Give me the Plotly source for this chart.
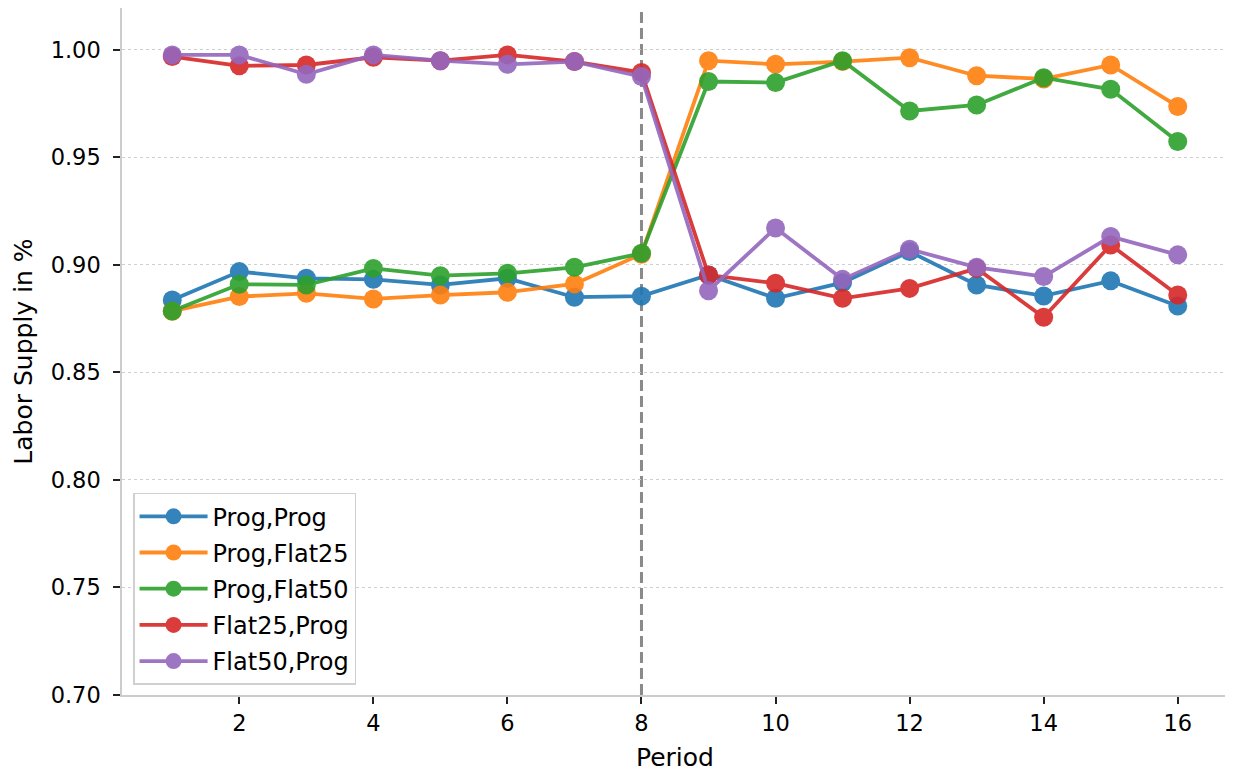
import plotly.graph_objects as go

periods = list(range(1, 17))

prog_prog = [0.8837, 0.8969, 0.8938, 0.8933, 0.8907, 0.8938, 0.8850, 0.8855,
             0.8953, 0.8845, 0.8918, 0.9062, 0.8907, 0.8856, 0.8926, 0.8809]
prog_flat25 = [0.8785, 0.8853, 0.8868, 0.8842, 0.8860, 0.8873, 0.8912, 0.9050,
               0.9950, 0.9933, 0.9946, 0.9964, 0.9880, 0.9865, 0.9930, 0.9737]
prog_flat50 = [0.8786, 0.8910, 0.8907, 0.8984, 0.8950, 0.8961, 0.8989, 0.9054,
               0.9853, 0.9848, 0.9950, 0.9716, 0.9744, 0.9871, 0.9817, 0.9574]
flat25_prog = [0.9969, 0.9926, 0.9930, 0.9966, 0.9950, 0.9977, 0.9946, 0.9895,
               0.8953, 0.8915, 0.8845, 0.8891, 0.8984, 0.8757, 0.9093, 0.8860]
flat50_prog = [0.9977, 0.9977, 0.9887, 0.9977, 0.9950, 0.9933, 0.9946, 0.9876,
               0.8880, 0.9172, 0.8933, 0.9073, 0.8989, 0.8946, 0.9132, 0.9047]

series_names = ["Prog,Prog", "Prog,Flat25", "Prog,Flat50", "Flat25,Prog", "Flat50,Prog"]
series_values = [prog_prog, prog_flat25, prog_flat50, flat25_prog, flat50_prog]
colors = ["#1f77b4", "#ff7f0e", "#2ca02c", "#d62728", "#9467bd"]

x_ticks = list(range(2, 17, 2))
y_ticks = [0.70, 0.75, 0.80, 0.85, 0.90, 0.95, 1.00]
break_period = 8

fig = go.Figure()
for i, (name, vals, col) in enumerate(zip(series_names, series_values, colors)):
    fig.add_trace(go.Scatter(
        x=periods, y=vals, name=name, mode="lines+markers",
        legendgroup=f"g{i}",
        line=dict(color=col, width=3.8),
        marker=dict(color=col, size=19),
        opacity=0.9,
    ))

fig.add_shape(type="line", xref="x", yref="paper", x0=break_period, x1=break_period,
              y0=0, y1=1, line=dict(color="#8a8a8a", width=3, dash="11px,5px"), layer="below")

font_family = "DejaVu Sans"
fig.update_layout(
    width=1225, height=764,
    margin=dict(l=114, r=5, t=0, b=77),
    paper_bgcolor="white", plot_bgcolor="white",
    font=dict(family=font_family, size=22, color="#000000"),
    showlegend=True,
    legend=dict(
        x=0.01, y=0.015, xanchor="left", yanchor="bottom",
        bgcolor="rgba(255,255,255,0.8)", bordercolor="#d0d0d0", borderwidth=1.5,
        font=dict(family=font_family, size=24),
        tracegroupgap=2, itemwidth=68,
        entrywidth=150, entrywidthmode="pixels",
    ),
    xaxis=dict(
        range=[0.25, 16.75], tickvals=x_ticks, ticks="outside", ticklen=7, tickwidth=1.5,
        tickcolor="#222", showgrid=False, zeroline=False,
        showline=True, linecolor="#cccccc", linewidth=1.5,
        title=dict(text="Period", font=dict(size=25), standoff=15),
        tickfont=dict(size=22.5),
    ),
    yaxis=dict(
        range=[0.70, 1.0195], tickvals=y_ticks, tickformat=".2f", ticks="outside", ticklen=7,
        tickwidth=1.5, tickcolor="#222", showgrid=True, gridcolor="#cfcfcf", griddash="dot",
        gridwidth=1.2, zeroline=False, ticklabelstandoff=8,
        showline=True, linecolor="#cccccc", linewidth=1.5,
        title=dict(text="Labor Supply in %", font=dict(size=25), standoff=11),
        tickfont=dict(size=22.5),
    ),
)

fig.write_html("out.html")
